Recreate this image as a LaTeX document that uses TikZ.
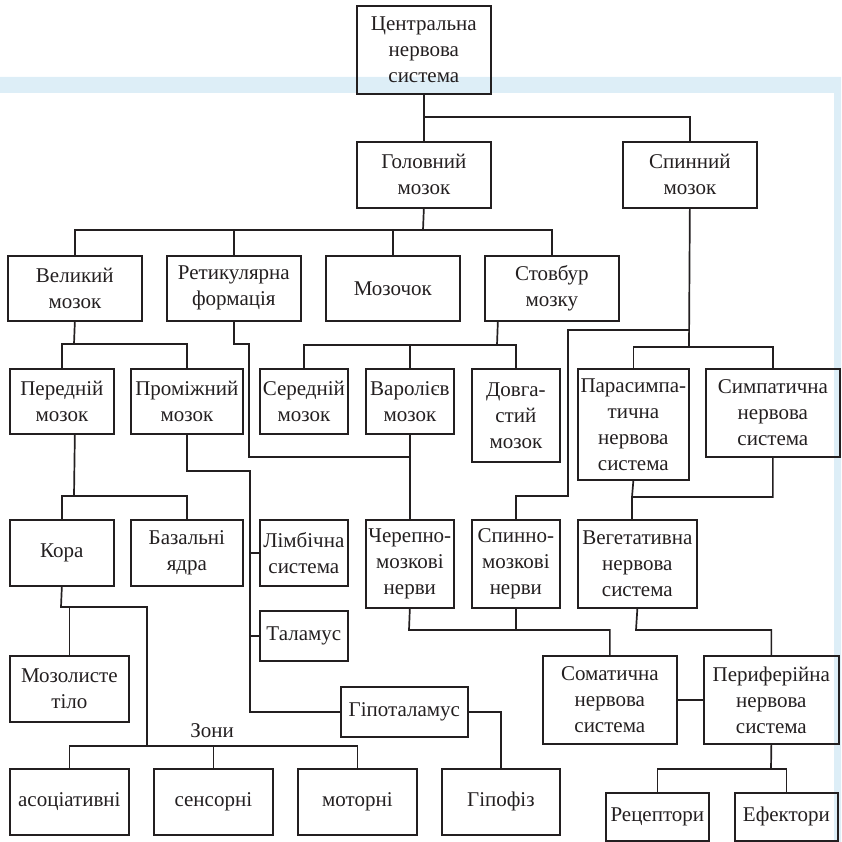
\documentclass[tikz,border=0pt]{standalone}
\usepackage{fontspec}
\setmainfont{Liberation Serif}
\usetikzlibrary{calc}
\definecolor{band}{HTML}{DDEEF7}
\definecolor{ink}{HTML}{231F20}

\begin{document}
\begin{tikzpicture}[x=1pt, y=-1pt, line width=1.7pt, draw=ink,
    txt/.style={text=ink, font=\fontsize{21}{26}\selectfont},
    blk/.style 2 args={draw=ink, txt, anchor=north west, minimum width=#1pt,
      minimum height=#2pt, inner sep=0pt, align=center}]
  \useasboundingbox (0,0) rectangle (841,842);
  \fill[band] (0,77) rectangle (841,93) (834,93) rectangle (841,842);

  % rows of boxes, top left corners in pixels
  \node[blk={134}{88}] (cns) at (356,5) {Центральна\\нервова\\система};
  \node[blk={134}{66}] (brain) at (356,141) {Головний\\мозок};
  \node[blk={134}{66}] (spinal) at (622,141) {Спинний\\мозок};

  \node[blk={134}{65}] (cereb) at (7,255) {Великий\\мозок};
  \node[blk={134}{65}] (retic) at (166,255) {Ретикулярна\\формація};
  \node[blk={134}{65}] (cerebellum) at (325,255) {Мозочок};
  \node[blk={134}{65}] (stem) at (484,255) {Стовбур\\мозку};

  \node[blk={104}{65}] (fore) at (9,368) {Передній\\мозок};
  \node[blk={112}{65}] (dien) at (130,368) {Проміжний\\мозок};
  \node[blk={88}{65}] (mid) at (259,368) {Середній\\мозок};
  \node[blk={88}{65}] (pons) at (365,368) {Варолієв\\мозок};
  \node[blk={88}{93}] (medulla) at (471,368) {Довга-\\стий\\мозок};
  \node[blk={111}{111}] (para) at (577,368) {Парасимпа-\\тична\\нервова\\система};
  \node[blk={134}{88}] (symp) at (705,368) {Симпатична\\нервова\\система};

  \node[blk={104}{66}] (cortex) at (9,519) {Кора};
  \node[blk={112}{66}] (basal) at (130,519) {Базальні\\ядра};
  \node[blk={88}{66}] (limbic) at (259,519) {Лімбічна\\система};
  \node[blk={88}{88}] (cranial) at (365,519) {Черепно-\\мозкові\\нерви};
  \node[blk={88}{88}] (spnerves) at (471,519) {Спинно-\\мозкові\\нерви};
  \node[blk={119}{88}] (veget) at (577,519) {Вегетативна\\нервова\\система};
  \node[blk={88}{50}] (thal) at (259,610) {Таламус};

  \node[blk={119}{66}] (callosum) at (9,655) {Мозолисте\\тіло};
  \node[blk={134}{88}] (somatic) at (542,655) {Соматична\\нервова\\система};
  \node[blk={135}{88}] (periph) at (703,655) {Периферійна\\нервова\\система};
  \node[blk={127}{50}] (hypoth) at (340,686) {Гіпоталамус};

  \node[txt] (zones) at (212,731) {Зони};
  \node[blk={119}{66}] (assoc) at (9,768) {асоціативні};
  \node[blk={119}{66}] (sens) at (153,768) {сенсорні};
  \node[blk={119}{66}] (motor) at (297,768) {моторні};
  \node[blk={118}{66}] (hypoph) at (441,768) {Гіпофіз};
  \node[blk={103}{48}] (recept) at (605,792) {Рецептори};
  \node[blk={103}{48}] (effect) at (734,792) {Ефектори};

  % junctions
  \coordinate (j1) at (423,117);
  \coordinate (b1) at (423,230);
  \coordinate (s1) at (689,347);
  \coordinate (s2) at (689,330);
  \coordinate (s3) at (568,496);
  \coordinate (c1) at (74,344);
  \coordinate (r1) at (249,344);
  \coordinate (r2) at (249,457);
  \coordinate (t1) at (497,345);
  \coordinate (d1) at (250,471);
  \coordinate (f1) at (74,496);
  \coordinate (k1) at (61,607);
  \coordinate (k2) at (147,607);
  \coordinate (z1) at (147,746);
  \coordinate (n1) at (409,630);
  \coordinate (v1) at (636,630);
  \coordinate (p1) at (632,497);
  \coordinate (e1) at (771,769);

  \draw (cns.south) -- (brain.north);
  \draw (j1) -| (spinal.north);
  \draw (brain.south) -- (b1);
  \draw (cereb.north) |- (b1) -| (stem.north);
  \foreach \n in {retic,cerebellum}
    \draw (\n.north) -- (\n.north |- b1);

  \draw (spinal.south) -- (s1);
  \draw (para.north) |- (s1) -| (symp.north);
  \draw (s2) -| (s3) -| (spnerves.north);

  \draw (cereb.south) -- (c1);
  \draw (fore.north) |- (c1) -| (dien.north);
  \draw (retic.south) |- (r1) -- (r2) -- (r2 -| pons.south);
  \draw ([xshift=-54pt]stem.south) -- (t1);
  \draw (mid.north) |- (t1) -| (medulla.north);
  \draw (pons.north) -- (pons.north |- t1);
  \draw (pons.south) -- (cranial.north);

  \draw (dien.south) |- (d1) |- (hypoth.west);
  \foreach \n in {limbic,thal}
    \draw (\n.west) -- (\n.west -| d1);
  \draw ([xshift=13pt]fore.south) -- (f1);
  \draw (cortex.north) |- (f1) -| (basal.north);

  \draw (cortex.south) -- (k1) -- (k2) -- (z1);
  \draw (callosum.north) -- (callosum.north |- k1);
  \draw (assoc.north) |- (z1) -| (motor.north);
  \draw (sens.north) -- (sens.north |- z1);
  \draw (hypoth.east) -| (hypoph.north);

  \draw (para.south) -- (p1) -| (symp.south);
  \draw (p1) -- (p1 |- veget.north);
  \draw (cranial.south) -- (n1) -| (somatic.north);
  \draw (spnerves.south) -- (spnerves.south |- n1);
  \draw (veget.south) -- (v1) -| (periph.north);
  \draw (somatic.east) -- (periph.west);
  \draw (periph.south) -- (e1);
  \draw (recept.north) |- (e1) -| (effect.north);
\end{tikzpicture}
\end{document}
